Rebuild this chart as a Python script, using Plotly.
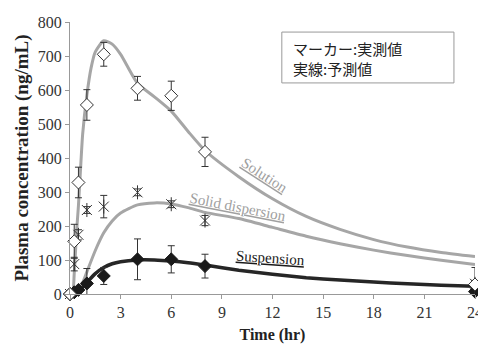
import plotly.graph_objects as go

# Observed data (markers)
t_obs = [0, 0.25, 0.5, 1, 2, 4, 6, 8, 24]
sol_obs = [0, 155, 328, 556, 705, 605, 583, 418, 28]
sol_err = [0, 50, 45, 45, 35, 35, 43, 43, 50]
sd_obs = [0, 88, 174, 247, 257, 299, 264, 216, 30]
sd_err = [0, 20, 15, 10, 33, 10, 10, 15, 10]
sus_obs = [0, 5, 12, 31, 53, 102, 102, 82, 7]
sus_err = [0, 3, 5, 44, 25, 60, 40, 35, 5]

# Predicted curves
t_sol = [0, 0.15, 0.25, 0.4, 0.5, 0.65, 0.75, 1, 1.25, 1.5, 2, 2.5, 3, 4, 5, 6, 7, 8, 10, 12, 14, 16, 18, 20, 22, 24]
sol_pred = [0, 0, 60, 190, 260, 390, 470, 585, 665, 712, 745, 735, 705, 620, 580, 538, 478, 422, 345, 280, 228, 190, 160, 138, 122, 110]
t_sd = [0, 0.3, 0.5, 0.75, 1, 1.5, 2, 2.5, 3, 4, 5, 6, 7, 8, 10, 12, 14, 16, 18, 20, 22, 24]
sd_pred = [0, 0, 8, 33, 65, 128, 180, 215, 238, 262, 268, 265, 254, 240, 222, 196, 170, 148, 129, 113, 99, 87]
t_sus = [0, 0.3, 0.5, 0.75, 1, 1.5, 2, 2.5, 3, 4, 5, 6, 7, 8, 10, 12, 14, 16, 18, 20, 22, 24]
sus_pred = [0, 0, 8, 20, 34, 60, 78, 89, 95, 100, 100, 97, 92, 85, 70, 58, 48, 41, 35, 30, 26, 23]

x_ticks = [0, 3, 6, 9, 12, 15, 18, 21, 24]
y_ticks = [0, 100, 200, 300, 400, 500, 600, 700, 800]

serif = "Liberation Serif"
cjk = "Noto Sans CJK JP"

fig = go.Figure()

fig.add_trace(go.Scatter(x=t_sol, y=sol_pred, mode="lines", line=dict(color="#a6a6a6", width=3, shape="spline", smoothing=0.6), cliponaxis=False))
fig.add_trace(go.Scatter(x=t_sd, y=sd_pred, mode="lines", line=dict(color="#a6a6a6", width=3, shape="spline", smoothing=0.6), cliponaxis=False))
fig.add_trace(go.Scatter(x=t_sus, y=sus_pred, mode="lines", line=dict(color="#262626", width=3.5, shape="spline", smoothing=0.6), cliponaxis=False))

err_style = dict(type="data", thickness=1, width=3.5, color="#333333")
fig.add_trace(go.Scatter(x=t_obs, y=sd_obs, mode="markers", cliponaxis=False,
                         error_y=dict(array=sd_err, **err_style),
                         marker=dict(symbol="x-thin-open", size=10, color="#333333", line=dict(color="#333333", width=1))))
fig.add_trace(go.Scatter(x=t_obs, y=sd_obs, mode="markers", cliponaxis=False,
                         marker=dict(symbol="line-ns-open", size=10, color="#333333", line=dict(color="#333333", width=1))))
fig.add_trace(go.Scatter(x=t_obs, y=sus_obs, mode="markers", cliponaxis=False,
                         error_y=dict(array=sus_err, **err_style),
                         marker=dict(symbol="diamond", size=10, color="#1a1a1a", line=dict(color="#1a1a1a", width=1))))
fig.add_trace(go.Scatter(x=t_obs, y=sol_obs, mode="markers", cliponaxis=False,
                         error_y=dict(array=sol_err, **err_style),
                         marker=dict(symbol="diamond", size=10, color="white", line=dict(color="#333333", width=1))))

fig.add_annotation(x=11.5, y=350, text="<u>Solution</u>", showarrow=False, textangle=33,
                   font=dict(family=serif, size=15, color="#a0a0a0"))
fig.add_annotation(x=9.96, y=256, text="<u>Solid dispersion</u>", showarrow=False, textangle=11,
                   font=dict(family=serif, size=15, color="#a0a0a0"))
fig.add_annotation(x=11.9, y=106, text="<u>Suspension</u>", showarrow=False, textangle=4,
                   font=dict(family=serif, size=15, color="#1a1a1a"))

# note box
fig.add_shape(type="rect", xref="paper", yref="paper", x0=0.523, x1=0.948, y0=0.776, y1=0.963,
              line=dict(color="#999999", width=1), fillcolor="white")
fig.add_annotation(xref="paper", yref="paper", x=0.545, y=0.903, xanchor="left", yanchor="middle",
                   text="マーカー:実測値", showarrow=False, font=dict(family=cjk, size=15, color="#222222"))
fig.add_annotation(xref="paper", yref="paper", x=0.545, y=0.830, xanchor="left", yanchor="middle",
                   text="実線:予測値", showarrow=False, font=dict(family=cjk, size=15, color="#222222"))

fig.update_layout(
    width=478, height=344,
    margin=dict(l=70, r=3, t=22, b=50),
    paper_bgcolor="white", plot_bgcolor="white",
    font=dict(family=serif, size=16, color="#333333"),
    showlegend=False,
    xaxis=dict(range=[0, 24], tickvals=x_ticks, ticktext=[str(v) for v in x_ticks],
               automargin=False, ticklabeloverflow="allow",
               showgrid=False, zeroline=False, showline=True, linecolor="#999999", linewidth=1,
               ticks="outside", ticklen=4, tickcolor="#999999",
               tickfont=dict(family=serif, size=16, color="#333333"),
               title=dict(text="<b>Time (hr)</b>", font=dict(family=serif, size=16, color="#222222"), standoff=13)),
    yaxis=dict(range=[0, 800], tickvals=y_ticks, ticktext=[str(v) for v in y_ticks],
               automargin=False,
               showgrid=False, zeroline=False, showline=True, linecolor="#999999", linewidth=1,
               ticks="outside", ticklen=4, tickcolor="#999999",
               tickfont=dict(family=serif, size=16, color="#333333"),
               title=dict(text="<b>Plasma concentration (ng/mL)</b>", font=dict(family=serif, size=19, color="#222222"), standoff=4)),
)

fig.write_html("out.html", config={"displayModeBar": False},
               post_script="document.body.style.margin='0';document.body.style.overflow='hidden';")
